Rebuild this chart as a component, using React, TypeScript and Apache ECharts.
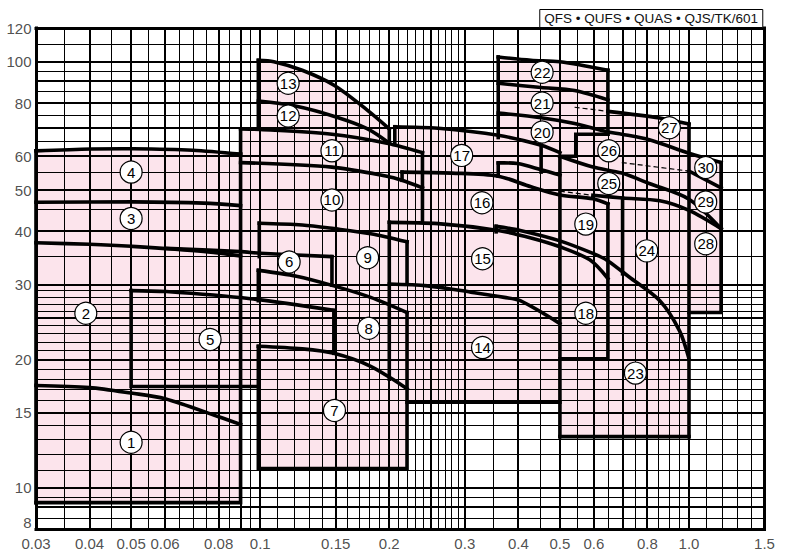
import React, { useEffect, useRef } from 'react';
import * as echarts from 'echarts';

const FONT = '"Liberation Sans", Arial, Helvetica, sans-serif';
const PINK = '#fce4ec';
const INK = '#000000';

const xRange = [0.03, 1.5];
const yRange = [8, 120];

const xTickValues = [0.03, 0.04, 0.05, 0.06, 0.08, 0.1, 0.15, 0.2, 0.3, 0.4, 0.5, 0.6, 0.8, 1.0, 1.5];
const xTickLabels = ['0.03', '0.04', '0.05', '0.06', '0.08', '0.1', '0.15', '0.2', '0.3', '0.4', '0.5', '0.6', '0.8', '1.0', '1.5'];
const yTickValues = [8, 10, 15, 20, 30, 40, 50, 60, 80, 100, 120];
const yTickLabels = ['8', '10', '15', '20', '30', '40', '50', '60', '80', '100', '120'];

const xGridThick = [0.04, 0.05, 0.06, 0.08, 0.09, 0.1, 0.15, 0.2, 0.25, 0.3, 0.4, 0.5, 0.6, 0.7, 0.8, 1.0];
const xGridThin = [0.035, 0.045, 0.055, 0.065, 0.07, 0.075, 0.085, 0.095, 0.11, 0.12, 0.13, 0.14, 0.16, 0.17, 0.18, 0.19,
  0.21, 0.22, 0.23, 0.24, 0.26, 0.27, 0.28, 0.29, 0.35, 0.45, 0.55, 0.65, 0.75, 0.85, 0.9, 0.95, 1.1, 1.2, 1.3, 1.4];
const yGridThick = [9, 10, 15, 20, 25, 30, 40, 50, 60, 70, 80, 90, 100];
const yGridThin = [8.5, 9.5, 11, 12, 13, 14, 16, 17, 18, 19, 21, 22, 23, 24, 26, 27, 28, 29, 35, 45, 55, 65, 75, 85, 95, 110];

// pink operating areas (flow m3/min, head m)
const area1to4 = [[0.03, 9.24], [0.03, 61.8], [0.0404, 62.4], [0.0505, 62.5], [0.0696, 62.0], [0.09, 60.7], [0.09, 9.24]];
const area5 = [[0.05, 17.3], [0.05, 29.05], [0.0603, 28.9], [0.095, 27.8], [0.1485, 26.1], [0.1485, 17.3]];
const area6 = [[0.09, 29.0], [0.09, 35.85], [0.1, 35.55], [0.147, 34.9], [0.147, 29.0]];
const area7to9 = [[0.099, 11.1], [0.22, 11.1], [0.22, 37.8], [0.181, 39.5], [0.1485, 40.6], [0.1253, 41.4], [0.0995, 41.8]];
const area10to11 = [[0.09, 35], [0.09, 69.6], [0.1, 69.4], [0.147, 67.6], [0.1975, 64.4], [0.239, 61.2], [0.239, 38], [0.0995, 34.9]];
const area12to13 = [[0.099, 64], [0.099, 100.8], [0.1076, 100], [0.1253, 95.5], [0.149, 88.0], [0.178, 76.9], [0.2, 69.6], [0.2, 64]];
const area14to17 = [[0.22, 15.9], [0.5, 15.9], [0.5, 61.2], [0.452, 63.7], [0.359, 67.2], [0.26, 69.8], [0.206, 70.4], [0.206, 40], [0.2, 40], [0.2, 17.5]];
const area20to22 = [[0.359, 60], [0.359, 102.6], [0.428, 100.8], [0.5, 100], [0.647, 95.5], [0.647, 60]];
const area18to27 = [[0.5, 13.2], [1.0, 13.2], [1.0, 71.4], [0.855, 73.8], [0.647, 76.5], [0.647, 67.6], [0.5445, 67.6], [0.5445, 60.0], [0.5, 60.0]];
const area28to30 = [[1.0, 25.8], [1.188, 25.8], [1.188, 58.0], [1.0, 61.0]];
const pinkAreas = [area1to4, area5, area6, area7to9, area10to11, area12to13, area14to17, area20to22, area18to27, area28to30];

// straight thick borders of the areas
const edge1to4Left = [[0.03, 9.24], [0.03, 61.8]];
const edge1to4RightBottom = [[0.09, 60.7], [0.09, 9.24], [0.03, 9.24]];
const edge5Box = [[0.099, 17.3], [0.05, 17.3], [0.05, 29.05]];
const edge5Right = [[0.1485, 26.1], [0.1485, 20.7]];
const edge6Right = [[0.147, 34.9], [0.147, 29.9]];
const edge7 = [[0.099, 21.5], [0.099, 11.1], [0.22, 11.1], [0.22, 25.8]];
const edge8Left = [[0.099, 27.5], [0.099, 32.4]];
const edge9Left = [[0.0995, 34.9], [0.0995, 41.8]];
const edge9Right = [[0.22, 37.8], [0.22, 30.3]];
const edge11Left = [[0.09, 60.7], [0.09, 69.6]];
const edge11Right = [[0.239, 61.2], [0.239, 42.2]];
const edge13Right = [[0.2, 64.4], [0.2, 69.6]];
const edge13Left = [[0.099, 100.8], [0.099, 69.6]];
const edge17Left = [[0.206, 64.4], [0.206, 70.4]];
const edge17Right = [[0.452, 63.7], [0.452, 55.1]];
const edge16Step = [[0.2142, 52.7], [0.2142, 55.1]];
const step16Left = [[0.359, 53.9], [0.359, 57.9]];
const edge14Left = [[0.2, 18.0], [0.2, 42.0]];
const edge14Bottom = [[0.22, 15.9], [0.5, 15.9]];
const notch24 = [[0.355, 39.9], [0.355, 41.1]];
const edge20Left = [[0.359, 66.4], [0.359, 102.6]];
const edge22Right = [[0.647, 95.5], [0.647, 67.6]];
const edge27Right = [[1.0, 71.4], [1.0, 13.2]];
const edge28to30 = [[1.0, 25.8], [1.188, 25.8], [1.188, 58.0]];
const edge24Left = [[0.7, 47.9], [0.7, 31.8]];
const edge23Left = [[0.5, 13.2], [0.5, 60.0], [0.5445, 60.0], [0.5445, 67.6], [0.647, 67.6]];
const edge18to19 = [[0.647, 46.4], [0.647, 20.1], [0.5, 20.1]];
const edge23Bottom = [[0.5, 13.2], [1.0, 13.2]];
const straightEdges = [edge1to4Left, edge1to4RightBottom, edge5Box, edge5Right, edge6Right, edge7, edge8Left, edge9Left,
  edge9Right, edge11Left, edge11Right, edge13Right, edge13Left, edge17Left, edge17Right, edge16Step, step16Left, edge14Left,
  edge14Bottom, notch24, edge20Left, edge22Right, edge27Right, edge28to30, edge24Left, edge23Left, edge18to19, edge23Bottom];

// head curves (stage limits)
const top1to4 = [[0.03, 61.8], [0.0404, 62.4], [0.0505, 62.5], [0.0696, 62.0], [0.09, 60.7]];
const curve3to4 = [[0.03, 46.8], [0.0505, 46.9], [0.0738, 46.6], [0.09, 45.96]];
const curve2to3 = [[0.03, 37.6], [0.04, 37.3], [0.05, 36.9], [0.0738, 35.9], [0.09, 35.0]];
const curve1to2 = [[0.03, 17.4], [0.04, 17.2], [0.05, 16.7], [0.06, 16.2], [0.08, 14.7], [0.09, 14.1]];
const top5 = [[0.05, 29.05], [0.0603, 28.9], [0.095, 27.8], [0.1485, 26.1]];
const top6 = [[0.0603, 36.5], [0.09, 35.85], [0.1, 35.55], [0.147, 34.9]];
const curve7 = [[0.099, 21.5], [0.1253, 21.2], [0.1485, 20.7], [0.181, 19.3], [0.22, 17.1]];
const curve8 = [[0.099, 32.4], [0.1215, 31.4], [0.1485, 29.8], [0.181, 28.0], [0.22, 25.8]];
const curve9 = [[0.0995, 41.8], [0.1253, 41.4], [0.1485, 40.6], [0.181, 39.5], [0.22, 37.8]];
const top11 = [[0.09, 69.6], [0.1, 69.4], [0.147, 67.6], [0.1975, 64.4], [0.239, 61.2]];
const curve10to11 = [[0.09, 58.0], [0.147, 56.6], [0.1975, 53.9], [0.2142, 52.7], [0.239, 50.6]];
const top13 = [[0.099, 100.8], [0.1076, 100], [0.1253, 95.5], [0.149, 88.0], [0.178, 76.9], [0.2, 69.6]];
const curve12to13 = [[0.099, 80.9], [0.12, 78.8], [0.149, 74.4], [0.178, 69.6], [0.2, 64.4]];
const top17 = [[0.206, 70.4], [0.26, 69.8], [0.359, 67.2], [0.452, 63.7], [0.5, 61.2]];
const curve16to17 = [[0.2142, 55.1], [0.28, 54.8], [0.359, 53.9], [0.428, 50.9], [0.5, 48.7], [0.597, 47.7], [0.647, 46.4]];
const step16Top = [[0.359, 57.9], [0.398, 57.7], [0.452, 55.8], [0.5, 54.2]];
const curve15to16 = [[0.2, 42.0], [0.26, 41.7], [0.359, 40.2], [0.428, 38.6], [0.5, 36.8], [0.587, 34.3], [0.647, 31.0]];
const curve14to15 = [[0.2, 30.1], [0.2455, 29.8], [0.31, 28.8], [0.371, 28.0], [0.404, 27.5], [0.5, 24.3]];
const curve23to24 = [[0.355, 41.1], [0.404, 40.2], [0.5, 38.0], [0.597, 35.5], [0.647, 34.1], [0.724, 31.3], [0.855, 27.5], [0.95, 23.4], [1.0, 20.1]];
const top22 = [[0.359, 102.6], [0.428, 100.8], [0.5, 100], [0.647, 95.5]];
const curve21to22 = [[0.359, 89.0], [0.452, 87.0], [0.541, 85.6], [0.647, 81.4]];
const curve20to21 = [[0.359, 75.8], [0.452, 73.9], [0.541, 71.6], [0.647, 68.4], [0.697, 67.6], [0.808, 65.6], [1.0, 61.0], [1.188, 58.0]];
const top27 = [[0.647, 76.5], [0.855, 73.8], [1.0, 71.4]];
const curve29to30 = [[1.0, 55.4], [1.188, 50.6]];
const curve25to26 = [[0.5, 60.0], [0.597, 56.6], [0.697, 54.8], [0.808, 51.8], [1.0, 47.6], [1.188, 40.6]];
const curve24 = [[0.597, 48.6], [0.7, 47.9], [0.855, 47.2], [1.0, 44.8], [1.188, 40.6]];
const headCurves = [top1to4, curve3to4, curve2to3, curve1to2, top5, top6, curve7, curve8, curve9, top11, curve10to11,
  top13, curve12to13, top17, curve16to17, step16Top, curve15to16, curve14to15, curve23to24, top22, curve21to22,
  curve20to21, top27, curve29to30, curve25to26, curve24];

const dash21 = [[0.541, 78.2], [0.647, 76.5]];
const dash19 = [[0.5, 49.7], [0.597, 48.6]];
const dash26 = [[0.697, 58.0], [1.0, 55.4]];
const dashedLines = [dash21, dash19, dash26];

// model number markers
const modelNames = ['1', '2', '3', '4', '5', '6', '7', '8', '9', '10', '11', '12', '13', '14', '15', '16', '17', '18', '19', '20',
  '21', '22', '23', '24', '25', '26', '27', '28', '29', '30'];
const modelX = [0.05, 0.0392, 0.05, 0.05, 0.0764, 0.1168, 0.149, 0.179, 0.178, 0.147, 0.147, 0.1162, 0.1162, 0.33, 0.33,
  0.329, 0.295, 0.5745, 0.5745, 0.4545, 0.4545, 0.4545, 0.75, 0.797, 0.65, 0.65, 0.9, 1.094, 1.094, 1.094];
const modelY = [12.8, 25.7, 42.9, 55.1, 22.3, 33.9, 15.2, 23.7, 34.7, 47.4, 61.8, 74.6, 89.0, 21.35, 34.5, 46.7, 60.3,
  25.7, 41.6, 68.4, 80.0, 94.5, 18.6, 36.0, 51.8, 61.8, 70.0, 37.4, 46.9, 56.5];

const headerText = 'QFS • QUFS • QUAS • QJS/TK/601';

function snap(c: number, w: number) {
  const r = Math.round(w) % 2 === 1 ? 0.5 : 0;
  return Math.round(c - r) + r;
}

function gridSeries(values: number[], vertical: boolean, width: number, z: number) {
  return {
    type: 'custom',
    z,
    silent: true,
    clip: false,
    data: values.map((v) => (vertical ? [v, yRange[0]] : [xRange[0], v])),
    encode: { x: 0, y: 1 },
    renderItem: (params: any, api: any) => {
      const v = vertical ? api.value(0) : api.value(1);
      const a = vertical ? api.coord([v, yRange[0]]) : api.coord([xRange[0], v]);
      const b = vertical ? api.coord([v, yRange[1]]) : api.coord([xRange[1], v]);
      const shape = vertical
        ? { x1: snap(a[0], width), y1: a[1], x2: snap(b[0], width), y2: b[1] }
        : { x1: a[0], y1: snap(a[1], width), x2: b[0], y2: snap(b[1], width) };
      return {
        type: 'line',
        shape,
        style: { stroke: INK, lineWidth: width, lineCap: 'square' },
      };
    },
  };
}

function polySeries(list: number[][][], kind: 'area' | 'edge' | 'curve' | 'dashed', z: number) {
  return {
    type: 'custom',
    z,
    silent: true,
    clip: false,
    data: list.map((pts) => pts[0]),
    encode: { x: 0, y: 1 },
    renderItem: (params: any, api: any) => {
      const points = list[params.dataIndex].map((p) => api.coord(p));
      if (kind === 'area') {
        return { type: 'polygon', shape: { points }, style: { fill: PINK, stroke: null } };
      }
      if (kind === 'dashed') {
        return {
          type: 'polyline',
          shape: { points },
          style: { stroke: INK, lineWidth: 1.2, fill: null, lineDash: [5, 3] },
        };
      }
      return {
        type: 'polyline',
        shape: { points, smooth: kind === 'curve' ? 0.3 : 0 },
        style: { stroke: INK, lineWidth: 3.6, fill: null, lineJoin: 'miter', lineCap: 'square' },
      };
    },
  };
}

export default function App() {
  const ref = useRef<HTMLDivElement>(null);

  useEffect(() => {
    if (!ref.current) return;
    const chart = echarts.init(ref.current, undefined, { renderer: 'svg' });
    const option: any = {
      animation: false,
      backgroundColor: '#ffffff',
      title: {
        text: headerText,
        right: 29,
        top: 9,
        padding: [2, 5, 2, 5],
        borderColor: INK,
        borderWidth: 1,
        backgroundColor: '#ffffff',
        textStyle: { fontSize: 13.5, fontWeight: 'normal', color: '#111', fontFamily: FONT, lineHeight: 15 },
      },
      grid: { left: 36, right: 27.5, top: 28, bottom: 29.7, containLabel: false },
      xAxis: {
        type: 'log', logBase: 10, min: xRange[0], max: xRange[1],
        axisLine: { show: false }, axisTick: { show: false }, axisLabel: { show: false }, splitLine: { show: false },
      },
      yAxis: {
        type: 'log', logBase: 10, min: yRange[0], max: yRange[1],
        axisLine: { show: false }, axisTick: { show: false }, axisLabel: { show: false }, splitLine: { show: false },
      },
      series: [
        polySeries(pinkAreas, 'area', 1),
        gridSeries(xGridThin, true, 1, 2),
        gridSeries(yGridThin, false, 1, 2),
        gridSeries(xGridThick, true, 2, 3),
        gridSeries(yGridThick, false, 2, 3),
        polySeries(straightEdges, 'edge', 4),
        polySeries(headCurves, 'curve', 4),
        polySeries(dashedLines, 'dashed', 4),
        gridSeries(xRange, true, 3, 5),
        gridSeries(yRange, false, 3, 5),
        {
          type: 'scatter',
          z: 6,
          silent: true,
          clip: false,
          symbol: 'circle',
          symbolSize: 22,
          itemStyle: { color: '#ffffff', borderColor: INK, borderWidth: 1.2, opacity: 1 },
          label: { show: true, position: 'inside', formatter: '{b}', fontSize: 15, color: '#000', fontFamily: FONT },
          data: modelNames.map((n, i) => ({ name: n, value: [modelX[i], modelY[i]] })),
        },
        {
          type: 'scatter',
          z: 6,
          silent: true,
          clip: false,
          symbolSize: 1,
          itemStyle: { color: 'rgba(0,0,0,0)' },
          label: { show: true, position: 'bottom', distance: 6, formatter: '{b}', fontSize: 15, color: '#222', fontFamily: FONT },
          data: xTickValues.map((v, i) => ({ name: xTickLabels[i], value: [v, yRange[0]] })),
        },
        {
          type: 'scatter',
          z: 6,
          silent: true,
          clip: false,
          symbolSize: 1,
          itemStyle: { color: 'rgba(0,0,0,0)' },
          label: { show: true, position: 'left', distance: 4, formatter: '{b}', fontSize: 15, color: '#222', fontFamily: FONT },
          data: yTickValues.map((v, i) => ({
            name: yTickLabels[i],
            value: [xRange[0], v],
            label: i === 0 ? { offset: [0, -7] } : undefined,
          })),
        },
      ],
    };
    chart.setOption(option);
    return () => chart.dispose();
  }, []);

  return (
    <div
      ref={ref}
      style={{ position: 'absolute', left: 0, top: 0, width: 792, height: 559, background: '#fff' }}
    />
  );
}
